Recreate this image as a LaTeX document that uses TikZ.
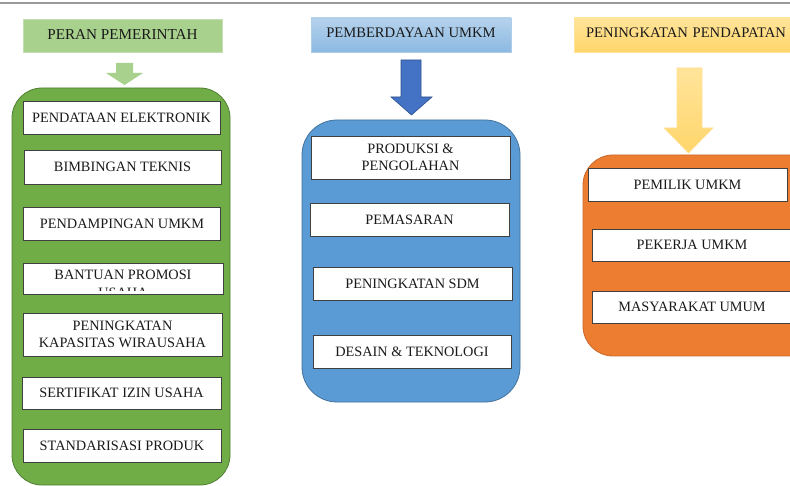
\documentclass[tikz,border=0pt]{standalone}
\usepackage{fontspec}
\setmainfont{Liberation Serif}
\definecolor{gbig}{HTML}{70AD47}
\definecolor{gbigd}{HTML}{507E32}
\definecolor{glight}{HTML}{A9D18E}
\definecolor{bbig}{HTML}{5B9BD5}
\definecolor{bbigd}{HTML}{41719C}
\definecolor{barrow}{HTML}{4472C4}
\definecolor{barrowd}{HTML}{2F528F}
\definecolor{obig}{HTML}{ED7D31}
\definecolor{obigd}{HTML}{C8682A}
\definecolor{otop}{HTML}{FFE49A}
\definecolor{obot}{HTML}{FFD66B}
\definecolor{txt}{HTML}{1A1A1A}
\tikzset{
  wbox/.style={draw=black!75, line width=0.8pt, fill=white, inner sep=0pt, align=center,
    font=\fontsize{14.3}{17.5}\selectfont, text=txt},
  titlebox/.style={inner sep=0pt, align=center, font=\fontsize{14.6}{17}\selectfont, text=txt},
  bigbox/.style={rounded corners=30pt, line width=0.8pt}
}
\begin{document}
\begin{tikzpicture}[x=1pt,y=-1pt]
\useasboundingbox (0,0) rectangle (790,486);
\clip (0,0) rectangle (790,486);
\fill[white] (0,0) rectangle (790,486);
\draw[gray!80, line width=1.2pt] (0,3) -- (790,3);

% ---------- green column ----------
\node[titlebox, font=\fontsize{15.2}{17}\selectfont, minimum width=199, minimum height=33, fill=glight, draw=glight!70!white, text depth=4pt] (t1) at (122.5,36) {PERAN PEMERINTAH};
\fill[glight] (116,63) -- (133,63) -- (133,73) -- (143,73) -- (124.5,85) -- (106,73) -- (116,73) -- cycle;
\draw[bigbox, fill=gbig, draw=gbigd] (12,88) rectangle (230,485);

\node[wbox, minimum width=197, minimum height=33] (g1) at (121.5,117.5) {PENDATAAN ELEKTRONIK};
\node[wbox, minimum width=197, minimum height=34] (g2) at (122.5,167) {BIMBINGAN TEKNIS};
\node[wbox, minimum width=197, minimum height=33] (g3) at (122,223.5) {PENDAMPINGAN UMKM};
\node[wbox, minimum width=200, minimum height=31] (g4) at (123,278.5) {};
\begin{scope}
\clip (24,264) rectangle (222,290.5);
\node[titlebox, anchor=north, font=\fontsize{14.3}{17.5}\selectfont] (g4t) at ([yshift=-7.5pt]g4.north) {BANTUAN PROMOSI\\USAHA};
\end{scope}
\node[wbox, minimum width=199, minimum height=43] (g5) at (122.5,334.5) {PENINGKATAN\\KAPASITAS WIRAUSAHA};
\node[wbox, minimum width=199, minimum height=32] (g6) at (121.5,393) {SERTIFIKAT IZIN USAHA};
\node[wbox, minimum width=198, minimum height=33] (g7) at (122,445.5) {STANDARISASI PRODUK};

% ---------- blue column ----------
\node[titlebox, minimum width=200, minimum height=34, top color=bbig!45!white, bottom color=bbig!70!white, draw=bbig!50!white, text depth=4pt] (t2) at (411,35) {PEMBERDAYAAN UMKM};
\draw[fill=barrow, draw=barrowd, line width=0.6pt] (401,60) -- (421,60) -- (421,97) -- (432,97) -- (411.5,115) -- (391,97) -- (401,97) -- cycle;
\draw[bigbox, rounded corners=35pt, fill=bbig, draw=bbigd] (302,120) rectangle (520,402);

\node[wbox, minimum width=199, minimum height=43] (b1) at (410.5,157.5) {PRODUKSI \&\\PENGOLAHAN};
\node[wbox, minimum width=199, minimum height=33] (b2) at (409.5,219.5) {PEMASARAN};
\node[wbox, minimum width=199, minimum height=33] (b3) at (412.5,283.5) {PENINGKATAN SDM};
\node[wbox, minimum width=198, minimum height=33] (b4) at (412,351.5) {DESAIN \& TEKNOLOGI};

% ---------- orange column ----------
\node[titlebox, minimum width=230, minimum height=34, top color=otop, bottom color=obot, draw=otop, text width=212, align=left, inner xsep=12pt, text depth=4pt] (t3) at (692,35) {PENINGKATAN PENDAPATAN};
\draw[top color=otop, bottom color=obot, draw=otop!80!obot, line width=0.6pt] (677,68) -- (702,68) -- (702,128) -- (713,128) -- (688.5,153) -- (664,128) -- (677,128) -- cycle;
\draw[bigbox, fill=obig, draw=obigd] (583,155) rectangle (830,356);

\node[wbox, minimum width=199, minimum height=33] (o1) at (687.5,184.5) {PEMILIK UMKM};
\node[wbox, minimum width=200, minimum height=32] (o2) at (692,245) {PEKERJA UMKM};
\node[wbox, minimum width=200, minimum height=32] (o3) at (692,307) {MASYARAKAT UMUM};
\end{tikzpicture}
\end{document}
